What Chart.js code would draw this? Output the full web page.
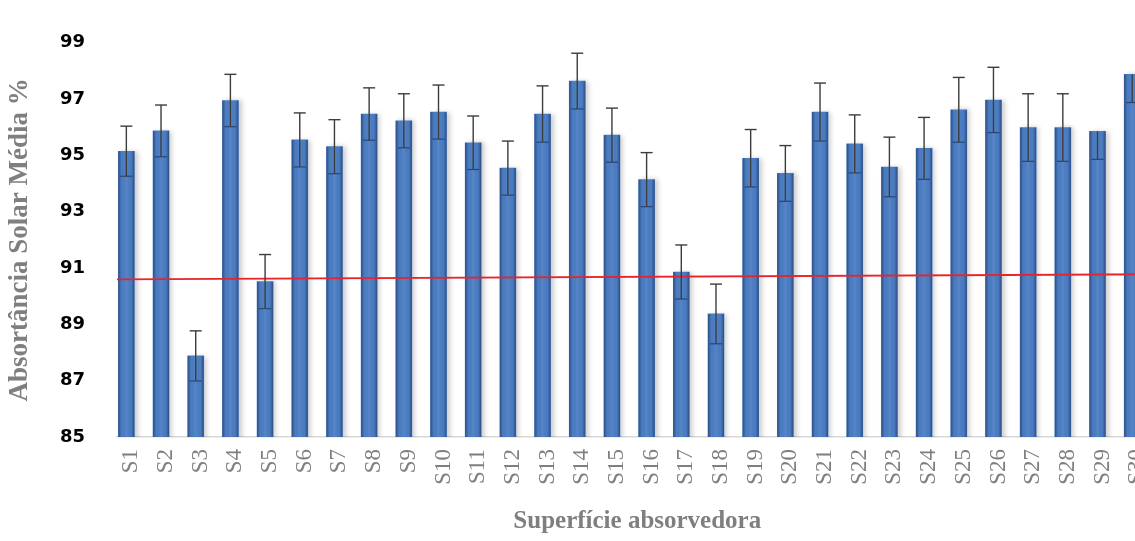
<!DOCTYPE html>
<html>
<head>
<meta charset="utf-8">
<script src="https://cdn.jsdelivr.net/npm/chart.js@4.4.1/dist/chart.umd.min.js"></script>
<style>
  html, body { margin: 0; padding: 0; background: #fff; overflow: hidden; }
  #wrap { width: 1180px; height: 541px; position: relative; }
</style>
</head>
<body>
<div id="wrap"><canvas id="myChart"></canvas></div>
<script>
// Absortância solar média por superfície

const superficies = ['S1', 'S2', 'S3', 'S4', 'S5', 'S6', 'S7', 'S8', 'S9', 'S10',
  'S11', 'S12', 'S13', 'S14', 'S15', 'S16', 'S17', 'S18', 'S19', 'S20',
  'S21', 'S22', 'S23', 'S24', 'S25', 'S26', 'S27', 'S28', 'S29', 'S30']

const absortancia = [95.15, 95.87, 87.88, 96.95, 90.52, 95.55, 95.31, 96.47, 96.23, 96.54,
  95.45, 94.55, 96.47, 97.64, 95.72, 94.14, 90.86, 89.37, 94.90, 94.36,
  96.54, 95.41, 94.59, 95.25, 96.62, 96.97, 95.99, 95.99, 95.86, 97.88]

// barras de erro (acima / abaixo)
const erroMais = [0.89, 0.92, 0.89, 0.93, 0.96, 0.96, 0.96, 0.93, 0.96, 0.96,
  0.95, 0.96, 1.00, 0.99, 0.96, 0.96, 0.96, 1.06, 1.02, 0.99,
  1.03, 1.03, 1.06, 1.10, 1.15, 1.16, 1.20, 1.20, 0, 0]
const erroMenos = [0.89, 0.92, 0.89, 0.93, 0.96, 0.96, 0.96, 0.93, 0.96, 0.96,
  0.95, 0.96, 1.00, 0.99, 0.96, 0.96, 0.96, 1.06, 1.02, 0.99,
  1.03, 1.03, 1.06, 1.10, 1.15, 1.16, 1.20, 1.20, 1.00, 1.00]

// linha vermelha (inicio, fim)
const tendencia = [90.60, 90.78]

const yMin = 85
const yMax = 99
const yPasso = 2

const serif = "'Liberation Serif', 'Times New Roman', serif"

// sombra + efeito cilindrico sobre as barras (usa a geometria das barras do Chart.js)
const barShadow = {
  id: 'barShadow',
  beforeDatasetDraw(chart, args) {
    if (args.index !== 0) return
    const c = chart.ctx
    c.save()
    c.shadowColor = 'rgba(0,0,0,0.2)'
    c.shadowBlur = 5
    c.shadowOffsetX = 3
  },
  afterDatasetDraw(chart, args) {
    if (args.index !== 0) return
    const c = chart.ctx
    const area = chart.chartArea
    c.restore()
    c.save()
    c.beginPath()
    c.rect(area.left, area.top, area.right - area.left, area.bottom - area.top)
    c.clip()
    chart.getDatasetMeta(0).data.forEach(bar => {
      const w = bar.width
      const left = bar.x - w / 2
      const bottom = Math.min(bar.base, area.bottom)
      const g = c.createLinearGradient(left, 0, left + w, 0)
      g.addColorStop(0, 'rgba(20,40,80,0.55)')
      g.addColorStop(0.2, 'rgba(20,40,80,0)')
      g.addColorStop(0.5, 'rgba(255,255,255,0.08)')
      g.addColorStop(0.8, 'rgba(20,40,80,0)')
      g.addColorStop(1, 'rgba(20,40,80,0.55)')
      c.fillStyle = g
      c.fillRect(left, bar.y, w, bottom - bar.y)
    })
    c.restore()
  }
}

const errorBars = {
  id: 'errorBars',
  afterDatasetsDraw(chart) {
    const c = chart.ctx
    const y = chart.scales.y
    const meta = chart.getDatasetMeta(0)
    c.save()
    meta.data.forEach((bar, i) => {
      const v = absortancia[i]
      const top = y.getPixelForValue(v + erroMais[i])
      const bot = y.getPixelForValue(v - erroMenos[i])
      const half = bar.width / 2
      // marca inferior dentro da barra
      c.strokeStyle = 'rgba(30,45,80,0.7)'
      c.lineWidth = 1.2
      c.beginPath()
      c.moveTo(bar.x - half + 2, bot)
      c.lineTo(bar.x + half - 2, bot)
      c.stroke()
      c.strokeStyle = '#3c3c3c'
      c.lineWidth = 1.4
      c.beginPath()
      c.moveTo(bar.x, bot)
      c.lineTo(bar.x, top)
      c.stroke()
      if (erroMais[i] > 0) {
        c.beginPath()
        c.moveTo(bar.x - 6, top)
        c.lineTo(bar.x + 6, top)
        c.stroke()
      }
    })
    c.restore()
  }
}

let ctx = document.querySelector('#myChart')
new Chart(ctx, {
  type: 'bar',
  data: {
    labels: superficies,
    datasets: [
      {
        label: 'Absortância',
        data: absortancia,
        backgroundColor: '#4a7cc2',
        borderWidth: 0,
        barThickness: 16,
        order: 2
      },
      {
        type: 'line',
        label: 'Média',
        data: [{ x: 0, y: tendencia[0] }, { x: 1, y: tendencia[1] }],
        xAxisID: 'xLinha',
        borderColor: '#e5252d',
        borderWidth: 1.8,
        pointRadius: 0,
        fill: false,
        order: 1
      }
    ]
  },
  options: {
    responsive: true,
    maintainAspectRatio: false,
    animation: false,
    layout: { padding: { top: 22, right: 12, left: 0, bottom: 0 } },
    plugins: {
      legend: { display: false },
      tooltip: { enabled: false }
    },
    scales: {
      x: {
        grid: { display: false, drawTicks: false },
        border: { display: true, color: '#d9d9d9', width: 1.5 },
        ticks: {
          minRotation: 90,
          maxRotation: 90,
          padding: 12,
          labelOffset: -3,
          color: '#7f7f7f',
          font: { family: serif, size: 23 }
        },
        title: {
          display: true,
          text: 'Superfície absorvedora',
          color: '#7f7f7f',
          padding: { top: 4, bottom: 4 },
          font: { family: serif, size: 25, weight: 'bold' }
        },
        afterFit(s) { s.height = 104 }
      },
      xLinha: {
        type: 'linear',
        display: false,
        offset: false,
        min: 0,
        max: 1
      },
      y: {
        min: yMin,
        max: yMax,
        grid: { display: false, drawTicks: false },
        border: { display: false },
        ticks: {
          stepSize: yPasso,
          padding: 32,
          color: '#000',
          font: { family: "'DejaVu Sans', sans-serif", size: 18, weight: 'bold' }
        },
        title: {
          display: true,
          text: 'Absortância Solar Média %',
          color: '#7f7f7f',
          padding: { top: 4, bottom: 4 },
          font: { family: serif, size: 27, weight: 'bold' }
        },
        afterFit(s) { s.width = 117 }
      }
    }
  },
  plugins: [barShadow, errorBars]
})
</script>
</body>
</html>
